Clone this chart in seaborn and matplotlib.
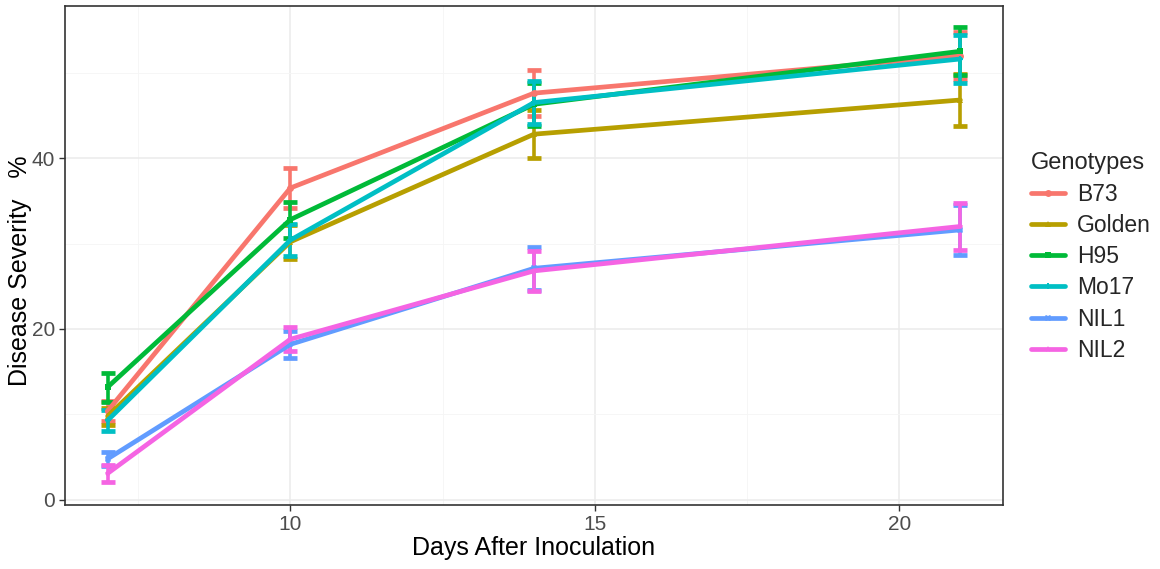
import numpy as np
import pandas as pd
import matplotlib
matplotlib.use("Agg")
import matplotlib.pyplot as plt
import seaborn as sns
from matplotlib.ticker import FixedLocator

days = [7, 10, 14, 21]
genotypes = ["B73", "Golden", "H95", "Mo17", "NIL1", "NIL2"]
b73 = [10.4, 36.5, 47.6, 52.0]
golden = [9.8, 30.2, 42.8, 46.8]
h95 = [13.2, 32.8, 46.3, 52.5]
mo17 = [9.3, 30.4, 46.5, 51.6]
nil1 = [4.8, 18.2, 27.1, 31.6]
nil2 = [3.1, 18.8, 26.8, 32.0]
b73_err = [1.2, 2.3, 2.7, 2.7]
golden_err = [1.0, 2.0, 2.8, 3.1]
h95_err = [1.7, 2.1, 2.5, 2.8]
mo17_err = [1.2, 1.9, 2.5, 2.8]
nil1_err = [0.8, 1.6, 2.5, 2.9]
nil2_err = [1.0, 1.4, 2.3, 2.7]

means = [b73, golden, h95, mo17, nil1, nil2]
errs = [b73_err, golden_err, h95_err, mo17_err, nil1_err, nil2_err]
palette = ["#F8766D", "#B79F00", "#00BA38", "#00BFC4", "#619CFF", "#F564E3"]
markers = ["o", "^", "s", "P", "X", "*"]

rows = []
for g, m, e in zip(genotypes, means, errs):
    for d, v, s in zip(days, m, e):
        rows.append({"Days": d, "Severity": v, "err": s, "Genotypes": g})
df = pd.DataFrame(rows)

sns.set_theme(style="white")
plt.rcParams["font.family"] = ["Liberation Sans", "DejaVu Sans"]

fig = plt.figure(figsize=(11.6, 5.69), dpi=100)
ax = fig.add_axes([65/1160, 64/569, (1003-65)/1160, (505-6)/569])

# error bars first
for g, col in zip(genotypes, palette):
    sub = df[df["Genotypes"] == g]
    ax.errorbar(sub["Days"], sub["Severity"], yerr=sub["err"], fmt="none",
                ecolor=col, elinewidth=2.6, capsize=4.8, capthick=3.4, zorder=2)

sns.lineplot(data=df, x="Days", y="Severity", hue="Genotypes", style="Genotypes",
             hue_order=genotypes, style_order=genotypes, palette=palette,
             markers=markers, dashes=False, linewidth=3.4, markersize=5,
             markeredgewidth=0, ax=ax, zorder=3, legend=True)

ax.set_xlim(6.3, 21.7)
ax.set_ylim(-0.6, 57.8)
ax.xaxis.set_major_locator(FixedLocator([10, 15, 20]))
ax.xaxis.set_minor_locator(FixedLocator([7.5, 12.5, 17.5]))
ax.yaxis.set_major_locator(FixedLocator([0, 20, 40]))
ax.yaxis.set_minor_locator(FixedLocator([10, 30, 50]))
ax.grid(which="major", color="#EBEBEB", linewidth=1.1)
ax.grid(which="minor", color="#F5F5F5", linewidth=0.6)
ax.set_axisbelow(True)
for sp in ax.spines.values():
    sp.set_color("#333333")
    sp.set_linewidth(1.2)
ax.tick_params(axis="both", which="major", length=4, width=1, color="#333333",
               labelsize=15, labelcolor="#4D4D4D", bottom=True, left=True, pad=3)
ax.tick_params(axis="both", which="minor", length=0)
ax.set_xlabel("Days After Inoculation", fontsize=18, color="black", labelpad=2)
ax.set_ylabel("Disease Severity   %", fontsize=18, color="black")
ax.yaxis.set_label_coords(-0.035, 0.47)

handles, labels = ax.get_legend_handles_labels()
ax.legend(handles, labels, title="Genotypes", loc="upper left",
          bbox_to_anchor=(1.02, 0.725), borderaxespad=0, frameon=False,
          fontsize=16.5, title_fontsize=17, handlelength=1.5, labelspacing=0.36,
          handletextpad=0.5, alignment="left")

fig.savefig("out.png", dpi=100)
